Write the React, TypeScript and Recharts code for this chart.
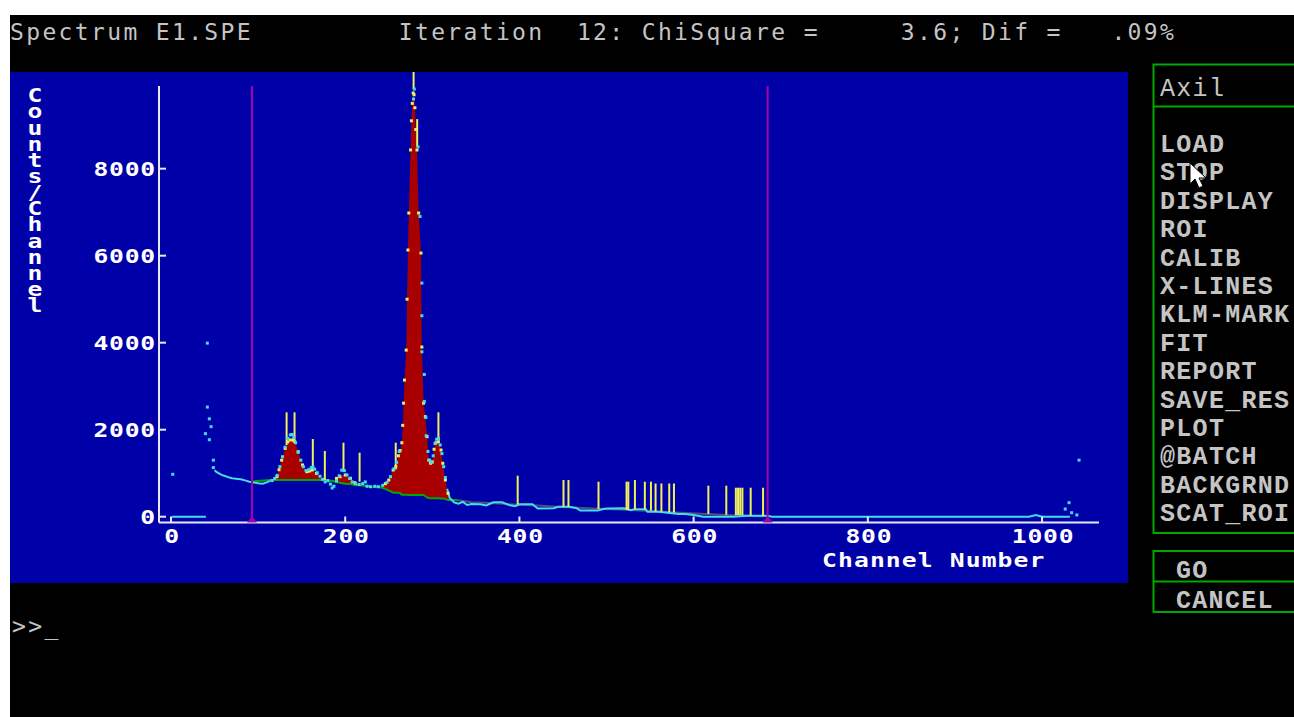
import React from 'react';
import {
  ComposedChart,
  XAxis,
  YAxis,
  Line,
  Area,
  Scatter,
  ReferenceLine,
  ReferenceDot,
  Label,
} from 'recharts';

// ---------- data ----------
const xTicks = [0, 200, 400, 600, 800, 1000];
const yTicks = [0, 2000, 4000, 6000, 8000];
const xDomain: [number, number] = [-13.8, 1065.4];
const yDomain: [number, number] = [-133, 9900];
const roiChannels = [93, 685];

// measured spectrum [channel, counts]
const spectrumFlat: [number, number][] = [
  [1, 0], [40, 0],
];
const spectrumLeft: [number, number][] = [
  [50, 1070], [52, 1030], [55, 995], [58, 960], [62, 935], [66, 905], [70, 885],
  [75, 870], [80, 860], [85, 835], [90, 805], [95, 785], [100, 770], [105, 760],
  [110, 790], [114, 830],
];
const spectrumPeakDots: [number, number][] = [
  [116, 830], [119, 880], [122, 950], [125, 1150], [128, 1380], [131, 1600], [134, 1800],
  [137, 1880], [139, 1890], [141, 1820], [143, 1700], [146, 1480], [149, 1300], [152, 1150],
  [155, 1060], [158, 1080], [161, 1130], [163, 1140], [165, 1090], [168, 1010], [171, 930],
  [174, 860], [177, 800], [180, 830], [183, 750], [185, 660], [187, 700], [190, 820],
  [193, 940], [196, 1070], [199, 1060], [202, 960], [205, 880], [208, 800], [212, 760],
  [216, 740], [220, 760], [223, 800], [225, 700], [229, 690], [234, 700], [238, 690],
  [243, 720], [248, 790], [252, 920], [256, 1100], [259, 1250], [262, 1500],
  [278.4, 9600], [279.3, 9830], [283.6, 8500], [285.9, 6900], [288, 5370], [288, 4620],
  [288, 3790], [290.8, 3270], [290.8, 2650], [292.6, 2280], [293, 1860], [295, 1500],
  [297, 1300], [299, 1250], [301, 1400], [303, 1680], [305, 1780], [307, 1800], [309, 1650],
  [311, 1450], [313, 1150], [315, 900],
];
const spectrumTail: [number, number][] = [
  [317, 640], [320, 430], [325, 330], [330, 300], [335, 340], [340, 270], [345, 290],
  [355, 285], [362, 260], [370, 330], [380, 330], [388, 270], [395, 240], [400, 285],
  [415, 285], [421, 190], [439, 195], [445, 230], [457, 230], [465, 200], [470, 140],
  [490, 140], [495, 170], [500, 190], [520, 195], [528, 150], [532, 170], [545, 170],
  [547, 115], [559, 115], [565, 100], [575, 80], [583, 60], [590, 60], [600, 40],
  [611, 0], [646, 0], [660, 20], [685, 20], [690, 0], [985, 0], [993, 40], [1000, 0],
  [1032, 0],
];
const spectrumOutliers: [number, number][] = [
  [2, 975], [41.7, 3990], [41.7, 2520], [44, 2250], [46, 2070], [39.5, 1910], [44, 1770],
  [48.6, 1300], [48.6, 1130], [1026.6, 177], [1031, 322], [1034, 92], [1040, 40], [1042.5, 1300],
];

// fit [channel, fit counts, background counts]
const fitPoints: [number, number, number][] = [
  [93, 810, 810], [114, 845, 845], [118, 870, 845], [121.5, 920, 845], [124, 1080, 845],
  [127, 1300, 845], [131, 1570, 845], [134, 1720, 845], [137, 1765, 845], [140, 1760, 845],
  [142, 1724, 845], [146, 1494, 845], [151, 1190, 845], [156, 1034, 845], [159, 1050, 845],
  [162, 1073, 845], [167, 997, 845], [173, 883, 845], [179, 850, 840], [186, 830, 820],
  [190, 880, 800], [194, 920, 780], [200, 959, 760], [206, 883, 752], [211, 782, 730],
  [220, 730, 715], [230, 700, 690], [240, 690, 676], [246, 760, 640], [250, 844, 600],
  [255, 1073, 556], [258, 1150, 552], [261, 1400, 548], [263, 1520, 545], [265, 1700, 505],
  [266, 2100, 504], [267, 2610, 503], [268, 3140, 503], [270, 3830, 502], [271, 5000, 502],
  [272, 6130, 501], [273, 6980, 501], [275, 8430, 501], [276, 9100, 500], [277, 9500, 500],
  [278, 9740, 500], [279, 9700, 500], [280, 9400, 500], [281, 8900, 499], [282.4, 8430, 499],
  [284.3, 6980, 499], [287, 6060, 499], [288, 3900, 498], [290, 2610, 498], [292, 2300, 470],
  [294, 1840, 440], [296, 1300, 430], [298, 1230, 425], [300, 1260, 423], [302, 1550, 423],
  [304, 1700, 422], [307, 1724, 422], [310, 1533, 421], [312, 1228, 421], [315, 844, 405],
  [318, 538, 386], [321, 400, 385], [325, 385, 383], [330, 380, 380],
];
const backgroundTail: [number, number][] = [
  [330, 380], [345, 330], [360, 320], [386, 290], [420, 255], [450, 225], [490, 185],
  [528, 155], [560, 120], [585, 90], [620, 55], [650, 30], [685, 10],
];

// peak markers [channel, from counts, to counts]
const peakMarkers: [number, number, number][] = [
  [132.7, 1648, 2400], [141.8, 1763, 2400], [162.8, 1090, 1786], [176.6, 844, 1510],
  [198, 1034, 1701], [216.5, 805, 1471], [258, 1090, 1701], [278.5, 9830, 10223],
  [282.6, 8500, 9140], [307, 1763, 2400], [398, 285, 943], [450.6, 230, 844],
  [456.3, 225, 844], [490.8, 177, 805], [523, 154, 805], [525, 154, 805], [532.6, 170, 844],
  [544, 165, 805], [551, 140, 805], [556.3, 120, 764], [563, 115, 764], [572, 100, 764],
  [577.4, 95, 764], [616.9, 62, 713], [637.5, 45, 713], [648.5, 39, 667], [651, 39, 667],
  [653.5, 39, 667], [656, 39, 667], [665.5, 25, 667], [679.7, 10, 667],
];

const titleLine = 'Spectrum E1.SPE         Iteration  12: ChiSquare =     3.6; Dif =   .09%';
const menuTitle = 'Axil';
const menuItems = [
  'LOAD', 'STOP', 'DISPLAY', 'ROI', 'CALIB', 'X-LINES', 'KLM-MARK', 'FIT', 'REPORT',
  'SAVE_RES', 'PLOT', '@BATCH', 'BACKGRND', 'SCAT_ROI',
];
const actionItems = ['GO', 'CANCEL'];
const yAxisTitle = 'Counts/Channel';
const xAxisTitle = 'Channel Number';

// ---------- styles ----------
const BLUE = '#0000a8';
const RED = '#a80000';
const YELLOW = '#f0f058';
const CYAN = '#44dcec';
const GREEN = '#00a800';
const GRAYLINE = '#505078';
const MAGENTA = '#a800a8';
const AXIS = '#e8e8f0';
const TEXTGRAY = '#c4c4c4';
const MONO = '"DejaVu Sans Mono", monospace';
const SMONO = '"Liberation Mono", "DejaVu Sans Mono", monospace';

const pts = (arr: [number, number][]) => arr.map(([ch, v]) => ({ ch, v }));
const areaData = fitPoints.map(([ch, fit, bg]) => ({ ch, range: [bg, fit] }));
const fitDots = fitPoints.filter(([, fit, bg]) => fit - bg > 40).map(([ch, fit]) => ({ ch, v: fit }));
const bgData = fitPoints.map(([ch, , bg]) => ({ ch, v: bg }));

const sq = (color: string) => (p: any) => (
  <rect x={p.cx - 1.5} y={p.cy - 1.5} width={3} height={3} fill={color} />
);

const XTick = (props: any) => {
  const { x, y, payload } = props;
  return (
    <g>
      <line x1={x} y1={y} x2={x} y2={y - 6} stroke={AXIS} strokeWidth={2} />
      <text
        transform={`translate(${x + 1},${y + 20}) scale(1.3,1)`}
        textAnchor="middle"
        fill="#ffffff"
        fontFamily={MONO}
        fontWeight="bold"
        fontSize={19}
        letterSpacing={0.6}
      >
        {payload.value}
      </text>
    </g>
  );
};

const YTick = (props: any) => {
  const { x, y, payload } = props;
  return (
    <g>
      <line x1={x} y1={y} x2={x + 7} y2={y} stroke={AXIS} strokeWidth={2} />
      <text
        transform={`translate(${x - 3},${y + 7}) scale(1.3,1)`}
        textAnchor="end"
        fill="#ffffff"
        fontFamily={MONO}
        fontWeight="bold"
        fontSize={19}
        letterSpacing={0.6}
      >
        {payload.value}
      </text>
    </g>
  );
};

const XTitle = (props: any) => {
  const vb = props.viewBox || { x: 159, y: 522.5 };
  return (
    <text
      transform={`translate(${vb.x + 663},${vb.y + 44}) scale(1.3,1)`}
      fill="#ffffff"
      fontFamily={MONO}
      fontWeight="bold"
      fontSize={19}
      letterSpacing={0.85}
    >
      {xAxisTitle}
    </text>
  );
};

const YTitle = () => (
  <text
    transform="translate(35,85) scale(1.3,1)"
    x={0}
    y={0}
    fill="#ffffff"
    fontFamily={MONO}
    fontWeight="bold"
    fontSize={19}
    letterSpacing={-5.4}
    style={{ writingMode: 'vertical-rl', textOrientation: 'upright' } as any}
  >
    {yAxisTitle}
  </text>
);

const Triangle = (p: any) => (
  <polygon points={`${p.cx - 5},${p.cy} ${p.cx + 5},${p.cy} ${p.cx},${p.cy - 6}`} fill={MAGENTA} />
);

export default function App() {
  return (
    <div style={{ position: 'absolute', left: 0, top: 0, width: 1294, height: 717, background: '#ffffff', overflow: 'hidden' }}>
      <div style={{ position: 'absolute', left: 10, top: 15, width: 1284, height: 702, background: '#000000' }} />
      <div style={{ position: 'absolute', left: 10, top: 72, width: 1118, height: 511, background: BLUE }} />
      <svg width={1294} height={717} style={{ position: 'absolute', left: 0, top: 0 }}>
        <text x={10} y={40} fill={TEXTGRAY} fontFamily={MONO} fontSize={23} letterSpacing={2.35} style={{ whiteSpace: 'pre' }}>
          {titleLine}
        </text>
        <rect x={1153.5} y={64.5} width={200} height={468.5} fill="none" stroke={GREEN} strokeWidth={2} />
        <line x1={1153.5} y1={106.5} x2={1294} y2={106.5} stroke={GREEN} strokeWidth={2} />
        <text x={1160} y={96} fill={TEXTGRAY} fontFamily={SMONO} fontSize={25} letterSpacing={1.3}>
          {menuTitle}
        </text>
        {menuItems.map((m, i) => (
          <text key={m} x={1160} y={152 + i * 28.4} fill={TEXTGRAY} fontFamily={SMONO} fontWeight="bold" fontSize={25} letterSpacing={1.3}>
            {m}
          </text>
        ))}
        <rect x={1153.5} y={551} width={200} height={61} fill="none" stroke={GREEN} strokeWidth={2} />
        <line x1={1153.5} y1={581.5} x2={1294} y2={581.5} stroke={GREEN} strokeWidth={2} />
        {actionItems.map((m, i) => (
          <text key={m} x={1176} y={578 + i * 29.5} fill={TEXTGRAY} fontFamily={SMONO} fontWeight="bold" fontSize={25} letterSpacing={1.3}>
            {m}
          </text>
        ))}
        <polygon
          points="1190,163 1190,184 1195,179 1199,188 1203,186 1199,178 1206,178"
          fill="#ffffff"
          stroke="#000000"
          strokeWidth={1}
        />
        <text x={12} y={634} fill={TEXTGRAY} fontFamily={MONO} fontSize={23} letterSpacing={2.4} style={{ whiteSpace: 'pre' }}>
          {'>>_'}
        </text>
      </svg>
      <div style={{ position: 'absolute', left: 0, top: 0 }}>
        <ComposedChart width={1294} height={717} margin={{ top: 86, right: 195, bottom: 154.5, left: 99 }}>
          <XAxis
            type="number"
            dataKey="ch"
            domain={xDomain}
            allowDataOverflow
            ticks={xTicks}
            interval={0}
            axisLine={{ stroke: AXIS, strokeWidth: 2 }}
            tickLine={false}
            tickSize={0}
            tickMargin={0}
            tick={<XTick />}
            height={40}
          >
            <Label content={<XTitle />} />
          </XAxis>
          <YAxis
            type="number"
            domain={yDomain}
            allowDataOverflow
            ticks={yTicks}
            interval={0}
            axisLine={{ stroke: AXIS, strokeWidth: 2 }}
            tickLine={false}
            tickSize={0}
            tickMargin={0}
            tick={<YTick />}
            width={60}
          >
            <Label content={<YTitle />} />
          </YAxis>
          <Area data={areaData} dataKey="range" type="linear" fill={RED} fillOpacity={1} stroke="none" isAnimationActive={false} />
          <Line data={bgData} dataKey="v" type="linear" stroke={GREEN} strokeWidth={2} dot={false} isAnimationActive={false} />
          <Line data={pts(backgroundTail)} dataKey="v" type="linear" stroke={GRAYLINE} strokeWidth={2} dot={false} isAnimationActive={false} />
          <Line data={pts(spectrumFlat)} dataKey="v" type="linear" stroke={CYAN} strokeWidth={2} dot={false} isAnimationActive={false} />
          <Line data={pts(spectrumLeft)} dataKey="v" type="linear" stroke={CYAN} strokeWidth={2} dot={false} isAnimationActive={false} />
          <Line data={pts(spectrumTail)} dataKey="v" type="linear" stroke={CYAN} strokeWidth={2} dot={false} isAnimationActive={false} />
          <Scatter data={fitDots} dataKey="v" shape={sq(YELLOW)} isAnimationActive={false} />
          <Scatter data={pts(spectrumPeakDots)} dataKey="v" shape={sq(CYAN)} isAnimationActive={false} />
          <Scatter data={pts(spectrumOutliers)} dataKey="v" shape={sq(CYAN)} isAnimationActive={false} />
          {peakMarkers.map(([ch, from, to], i) => (
            <ReferenceLine
              key={`m${i}`}
              segment={[{ x: ch, y: from }, { x: ch, y: to }]}
              stroke={YELLOW}
              strokeWidth={2}
              ifOverflow="visible"
            />
          ))}
          {roiChannels.map((ch) => (
            <ReferenceLine key={`r${ch}`} x={ch} stroke={MAGENTA} strokeWidth={2} />
          ))}
          {roiChannels.map((ch) => (
            <ReferenceDot key={`t${ch}`} x={ch} y={yDomain[0]} r={5} shape={<Triangle />} ifOverflow="visible" />
          ))}
        </ComposedChart>
      </div>
    </div>
  );
}
